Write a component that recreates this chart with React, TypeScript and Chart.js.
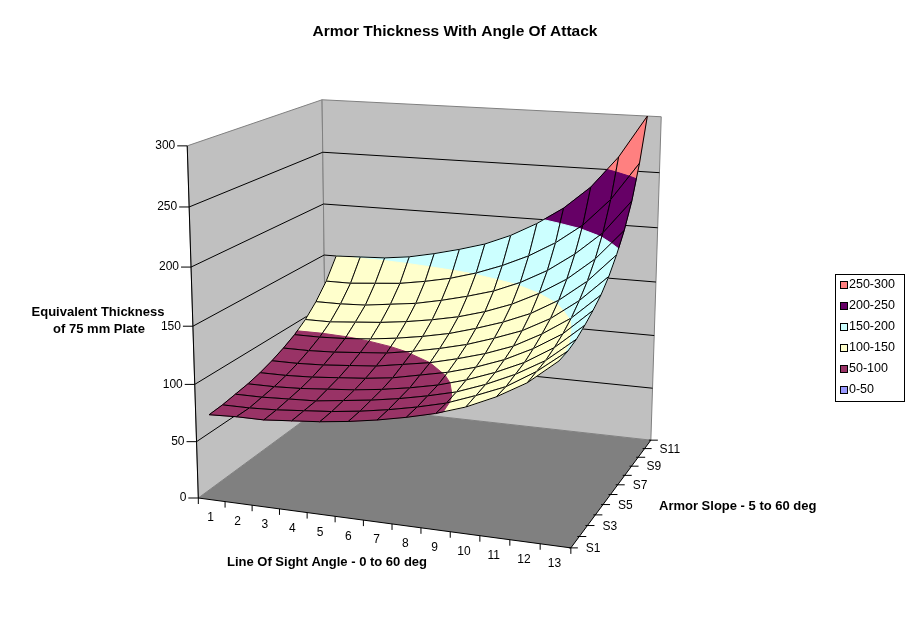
import { useEffect, useRef } from "react";
import { Chart, registerables, Plugin } from "chart.js";

Chart.register(...registerables);

const W = 911;
const H = 623;
const FONT = "'Liberation Sans', Arial, sans-serif";

const title = "Armor Thickness With Angle Of Attack";
const categories = ["1", "2", "3", "4", "5", "6", "7", "8", "9", "10", "11", "12", "13"];
const seriesNames = ["S1", "S2", "S3", "S4", "S5", "S6", "S7", "S8", "S9", "S10", "S11", "S12"];
const valueTicks = [0, 50, 100, 150, 200, 250, 300];
const bandLabels = ["250-300", "200-250", "150-200", "100-150", "50-100", "0-50"];

// equivalent thickness, one row per armor slope (S1 front .. S12 back)
const s1 = [75, 76, 76, 78, 80, 83, 87, 92, 98, 106, 117, 131, 151];
const s2 = [76, 76, 77, 79, 81, 84, 88, 93, 99, 108, 118, 133, 152];
const s3 = [78, 78, 79, 80, 83, 86, 90, 95, 101, 110, 121, 135, 155];
const s4 = [80, 80, 81, 83, 85, 88, 92, 97, 104, 113, 124, 139, 160];
const s5 = [83, 83, 84, 86, 88, 91, 96, 101, 108, 117, 129, 144, 166];
const s6 = [87, 87, 88, 90, 92, 96, 100, 106, 113, 122, 135, 151, 173];
const s7 = [92, 92, 93, 95, 97, 101, 106, 112, 120, 129, 142, 160, 183];
const s8 = [98, 98, 99, 101, 104, 108, 113, 120, 128, 138, 152, 171, 196];
const s9 = [106, 106, 108, 110, 113, 117, 122, 129, 138, 150, 165, 185, 212];
const s10 = [117, 117, 118, 121, 124, 129, 135, 142, 152, 165, 182, 203, 233];
const s11 = [131, 131, 133, 135, 139, 144, 151, 160, 171, 185, 203, 228, 262];
const s12 = [150, 151, 152, 155, 160, 166, 173, 183, 196, 212, 233, 262, 300];
const seriesValues = [s1, s2, s3, s4, s5, s6, s7, s8, s9, s10, s11, s12];

const bandColors = ["#FF8080", "#660066", "#CCFFFF", "#FFFFCC", "#993366", "#9999FF"];

// where the plot box sits on the page: [cat 0..1, depth 0..1, value 0..1, px, py]
const boxAnchors: number[][] = [
  [0, 0, 1, 186, 146], [0, 0, 5 / 6, 188, 207], [0, 0, 4 / 6, 190, 267], [0, 0, 0.5, 193, 326],
  [0, 0, 2 / 6, 196, 384], [0, 0, 1 / 6, 198, 441], [0, 0, 0, 200, 498],
  [0, 1, 1, 323, 100], [0, 1, 5 / 6, 323, 153], [0, 1, 4 / 6, 324, 203], [0, 1, 0.5, 324, 254],
  [0, 1, 0, 324, 406],
  [1, 1, 1, 661, 117], [1, 1, 5 / 6, 660, 173], [1, 1, 4 / 6, 658, 228], [1, 1, 0.5, 656, 282],
  [1, 1, 2 / 6, 654, 336], [1, 1, 1 / 6, 653, 387], [1, 1, 0, 651, 439],
  [1, 0, 0, 571, 549], [7 / 13, 0, 0, 391, 524], [1, 6 / 11, 0, 617, 485],
];

// least squares fit of a 3x4 perspective camera (DLT)
function fitCamera(pts: number[][]): number[] {
  const n = 11;
  const M = Array.from({ length: n }, () => new Array(n + 1).fill(0));
  const add = (row: number[], rhs: number) => {
    for (let i = 0; i < n; i++) {
      for (let j = 0; j < n; j++) M[i][j] += row[i] * row[j];
      M[i][n] += row[i] * rhs;
    }
  };
  for (const [X, Y, Z, px, py] of pts) {
    const u = px / W;
    const v = py / H;
    add([X, Y, Z, 1, 0, 0, 0, 0, -u * X, -u * Y, -u * Z], u);
    add([0, 0, 0, 0, X, Y, Z, 1, -v * X, -v * Y, -v * Z], v);
  }
  for (let c = 0; c < n; c++) {
    let p = c;
    for (let r = c + 1; r < n; r++) if (Math.abs(M[r][c]) > Math.abs(M[p][c])) p = r;
    [M[c], M[p]] = [M[p], M[c]];
    for (let r = 0; r < n; r++) {
      if (r === c) continue;
      const f = M[r][c] / M[c][c];
      for (let k = c; k <= n; k++) M[r][k] -= f * M[c][k];
    }
  }
  return M.map((row, i) => row[n] / row[i]);
}

const cam = fitCamera(boxAnchors);

function project(X: number, Y: number, Z: number) {
  const w = cam[8] * X + cam[9] * Y + cam[10] * Z + 1;
  return {
    u: (cam[0] * X + cam[1] * Y + cam[2] * Z + cam[3]) / w,
    v: (cam[4] * X + cam[5] * Y + cam[6] * Z + cam[7]) / w,
    w,
  };
}

type V3 = [number, number, number];

function clipBand(poly: V3[], t: number, above: boolean): V3[] {
  const out: V3[] = [];
  for (let i = 0; i < poly.length; i++) {
    const a = poly[i];
    const b = poly[(i + 1) % poly.length];
    const ina = above ? a[2] >= t : a[2] <= t;
    const inb = above ? b[2] >= t : b[2] <= t;
    if (ina) out.push(a);
    if (ina !== inb) {
      const f = (t - a[2]) / (b[2] - a[2]);
      out.push([a[0] + f * (b[0] - a[0]), a[1] + f * (b[1] - a[1]), t]);
    }
  }
  return out;
}

const surfacePlugin: Plugin = {
  id: "surface3d",
  afterDraw(chart) {
    const ctx = chart.ctx;
    const sx = chart.scales.x;
    const sy = chart.scales.y;
    const vmax = valueTicks[valueTicks.length - 1];
    const nc = categories.length;
    const ns = seriesNames.length;
    const pt = (X: number, Y: number, val: number): [number, number] => {
      const p = project(X, Y, val / vmax);
      return [sx.getPixelForValue(p.u), sy.getPixelForValue(p.v)];
    };
    const path = (pts: [number, number][]) => {
      ctx.beginPath();
      pts.forEach(([x, y], i) => (i ? ctx.lineTo(x, y) : ctx.moveTo(x, y)));
      ctx.closePath();
    };
    const line = (a: [number, number], b: [number, number]) => {
      ctx.beginPath();
      ctx.moveTo(a[0], a[1]);
      ctx.lineTo(b[0], b[1]);
      ctx.stroke();
    };

    ctx.save();
    ctx.lineWidth = 1;

    // walls and floor
    ctx.fillStyle = "#C0C0C0";
    ctx.strokeStyle = "#808080";
    path([pt(0, 0, 0), pt(0, 1, 0), pt(0, 1, vmax), pt(0, 0, vmax)]);
    ctx.fill();
    ctx.stroke();
    path([pt(0, 1, 0), pt(1, 1, 0), pt(1, 1, vmax), pt(0, 1, vmax)]);
    ctx.fill();
    ctx.stroke();
    ctx.strokeStyle = "#000";
    valueTicks.slice(1, -1).forEach((t) => {
      ctx.beginPath();
      const a = pt(0, 0, t), b = pt(0, 1, t), c = pt(1, 1, t);
      ctx.moveTo(a[0], a[1]);
      ctx.lineTo(b[0], b[1]);
      ctx.lineTo(c[0], c[1]);
      ctx.stroke();
    });
    ctx.fillStyle = "#808080";
    path([pt(0, 0, 0), pt(1, 0, 0), pt(1, 1, 0), pt(0, 1, 0)]);
    ctx.fill();

    // surface cells, far to near
    const cells: { i: number; j: number; w: number }[] = [];
    for (let j = 0; j < ns - 1; j++) {
      for (let i = 0; i < nc - 1; i++) {
        cells.push({ i, j, w: project((i + 1) / nc, (j + 0.5) / (ns - 1), 0.5).w });
      }
    }
    cells.sort((a, b) => b.w - a.w);
    const cx = (i: number) => (i + 0.5) / nc;
    const cy = (j: number) => j / (ns - 1);
    const bandStep = valueTicks[1] - valueTicks[0];
    for (const { i, j } of cells) {
      const quad: V3[] = [
        [cx(i), cy(j), seriesValues[j][i]],
        [cx(i + 1), cy(j), seriesValues[j][i + 1]],
        [cx(i + 1), cy(j + 1), seriesValues[j + 1][i + 1]],
        [cx(i), cy(j + 1), seriesValues[j + 1][i]],
      ];
      bandLabels.forEach((_, b) => {
        const lo = (bandLabels.length - 1 - b) * bandStep;
        const poly = clipBand(clipBand(quad, lo, true), lo + bandStep, false);
        if (poly.length < 3) return;
        ctx.fillStyle = bandColors[b];
        ctx.strokeStyle = bandColors[b];
        path(poly.map(([X, Y, v]) => pt(X, Y, v)));
        ctx.fill();
        ctx.stroke();
      });
      ctx.strokeStyle = "#000";
      path(quad.map(([X, Y, v]) => pt(X, Y, v)));
      ctx.stroke();
    }

    // axes
    ctx.strokeStyle = "#000";
    ctx.fillStyle = "#000";
    line(pt(0, 0, 0), pt(0, 0, vmax));
    line(pt(0, 0, 0), pt(1, 0, 0));
    line(pt(1, 0, 0), pt(1, 1, 0));

    ctx.font = `12px ${FONT}`;
    ctx.textBaseline = "middle";
    ctx.textAlign = "right";
    valueTicks.forEach((t) => {
      const [x, y] = pt(0, 0, t);
      line([x - 10, y], [x, y]);
      ctx.fillText(String(t), x - 12, y);
    });

    ctx.textAlign = "center";
    for (let k = 0; k <= nc; k++) {
      const [x, y] = pt(k / nc, 0, 0);
      line([x, y], [x, y + 6]);
    }
    categories.forEach((c, i) => {
      const [x, y] = pt(cx(i), 0, 0);
      ctx.fillText(c, x - 1, y + 18);
    });

    ctx.textAlign = "left";
    seriesNames.forEach((s, j) => {
      const [x, y] = pt(1, cy(j), 0);
      line([x - 2, y], [x + 7, y]);
      if (j % 2 === 0) ctx.fillText(s, x + 15, y + 1);
    });

    // titles
    ctx.font = `bold 15.5px ${FONT}`;
    ctx.textAlign = "center";
    ctx.fillText(title, 455, 32);
    ctx.font = `bold 13px ${FONT}`;
    ctx.fillText("Line Of Sight Angle - 0 to 60 deg", 327, 562);
    ctx.fillText("Equivalent Thickness", 98, 312);
    ctx.fillText("of 75 mm Plate", 99, 329);
    ctx.textAlign = "left";
    ctx.fillText("Armor Slope - 5 to 60 deg", 659, 506);

    // legend
    ctx.fillStyle = "#fff";
    ctx.strokeStyle = "#000";
    ctx.fillRect(835.5, 274.5, 69, 127);
    ctx.strokeRect(835.5, 274.5, 69, 127);
    ctx.font = `12.5px ${FONT}`;
    bandLabels.forEach((lab, b) => {
      const y = 285 + b * 21;
      ctx.fillStyle = bandColors[b];
      ctx.fillRect(840.5, y - 3.5, 7, 7);
      ctx.strokeRect(840.5, y - 3.5, 7, 7);
      ctx.fillStyle = "#000";
      ctx.fillText(lab, 849, y);
    });
    ctx.restore();
  },
};

export default function App() {
  const canvasRef = useRef<HTMLCanvasElement>(null);

  useEffect(() => {
    document.body.style.margin = "0";
    if (!canvasRef.current) return;
    const chart = new Chart(canvasRef.current, {
      type: "scatter",
      data: { datasets: [] },
      options: {
        responsive: false,
        animation: false,
        devicePixelRatio: 1,
        layout: { padding: 0 },
        plugins: {
          legend: { display: false },
          title: { display: false },
          tooltip: { enabled: false },
        },
        scales: {
          x: { type: "linear", min: 0, max: 1, display: false },
          y: { type: "linear", min: 0, max: 1, reverse: true, display: false },
        },
      },
      plugins: [surfacePlugin],
    });
    return () => chart.destroy();
  }, []);

  return (
    <div style={{ width: W, height: H, background: "#fff" }}>
      <canvas ref={canvasRef} width={W} height={H} style={{ display: "block" }} />
    </div>
  );
}
